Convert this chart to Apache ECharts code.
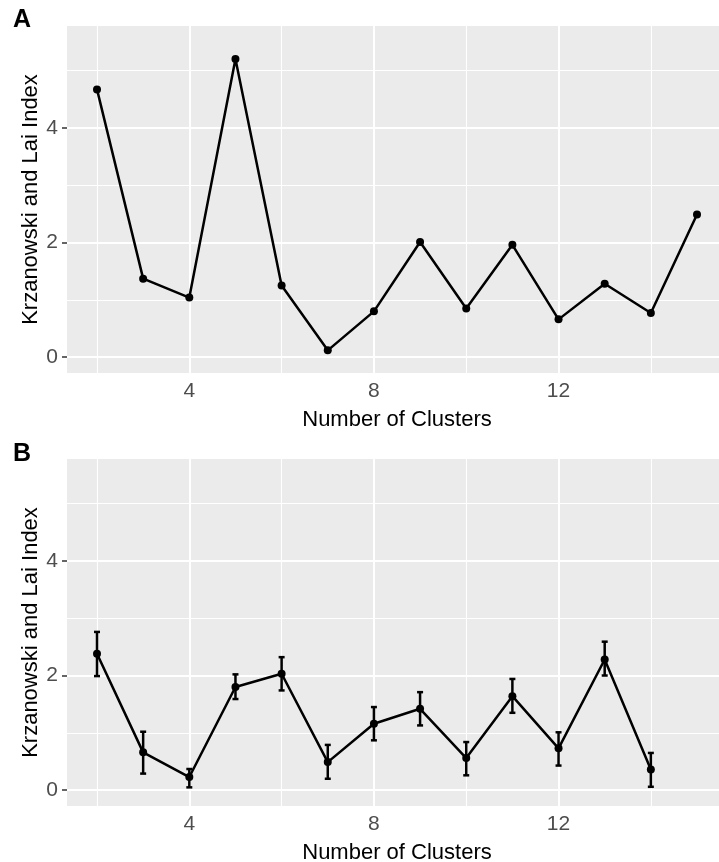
<!DOCTYPE html>
<html>
<head>
<meta charset="utf-8">
<script src="https://cdn.jsdelivr.net/npm/echarts@6/dist/echarts.min.js"></script>
<style>
  html, body { margin: 0; padding: 0; background: #ffffff; }
  #chart { width: 719px; height: 862px; }
</style>
</head>
<body>
<div id="chart"></div>
<script>
// panel A: single run
var clustersA = [2, 3, 4, 5, 6, 7, 8, 9, 10, 11, 12, 13, 14, 15];
var indexA = [4.67, 1.37, 1.04, 5.20, 1.25, 0.12, 0.80, 2.01, 0.85, 1.96, 0.66, 1.28, 0.77, 2.49];

// panel B: mean with error bars
var clustersB = [2, 3, 4, 5, 6, 7, 8, 9, 10, 11, 12, 13, 14];
var meanB = [2.38, 0.66, 0.23, 1.80, 2.03, 0.49, 1.16, 1.42, 0.56, 1.64, 0.73, 2.28, 0.36];
var lowerB = [1.99, 0.29, 0.05, 1.59, 1.74, 0.20, 0.87, 1.13, 0.26, 1.35, 0.43, 2.00, 0.06];
var upperB = [2.76, 1.02, 0.37, 2.02, 2.32, 0.79, 1.45, 1.71, 0.84, 1.94, 1.01, 2.59, 0.65];

var xTicks = [4, 8, 12];
var yTicks = [0, 2, 4];
var xMinor = [2, 6, 10, 14];
var yMinor = [1, 3, 5];

var FONT = 'Liberation Sans, Arial, Helvetica, sans-serif';

// white ggplot-style grid, drawn as markLines under the data
function gridLines() {
  var d = [];
  xTicks.forEach(function (v) { d.push({ xAxis: v, lineStyle: { width: 2 } }); });
  xMinor.forEach(function (v) { d.push({ xAxis: v, lineStyle: { width: 1.1 } }); });
  yTicks.forEach(function (v) { d.push({ yAxis: v, lineStyle: { width: 2 } }); });
  yMinor.forEach(function (v) { d.push({ yAxis: v, lineStyle: { width: 1.1 } }); });
  return d;
}

function xAx(idx) {
  return {
    type: 'value',
    gridIndex: idx,
    min: 1.35,
    max: 15.65,
    name: 'Number of Clusters',
    nameLocation: 'middle',
    nameGap: 36,
    nameTextStyle: { fontFamily: FONT, fontSize: 22, color: '#000000' },
    axisLine: { show: false },
    axisTick: { show: true, length: 5, customValues: xTicks, lineStyle: { color: '#333333', width: 1.5 } },
    axisLabel: { customValues: xTicks, margin: 8, fontFamily: FONT, fontSize: 21, color: '#4d4d4d' },
    splitLine: { show: false }
  };
}

function yAx(idx) {
  return {
    type: 'value',
    gridIndex: idx,
    min: -0.275,
    max: 5.775,
    name: 'Krzanowski and Lai Index',
    nameLocation: 'middle',
    nameGap: 25,
    nameMoveOverlap: false,
    nameTextStyle: { fontFamily: FONT, fontSize: 22, color: '#000000' },
    axisLine: { show: false },
    axisTick: { show: true, length: 5, customValues: yTicks, lineStyle: { color: '#333333', width: 1.5 } },
    axisLabel: { customValues: yTicks, margin: 9, fontFamily: FONT, fontSize: 21, color: '#4d4d4d' },
    splitLine: { show: false }
  };
}

var chart = echarts.init(document.getElementById('chart'));

var option = {
  animation: false,
  backgroundColor: '#ffffff',
  title: [
    { text: 'A', left: 13, top: 8, padding: 0, textStyle: { fontFamily: FONT, fontSize: 25, fontWeight: 'bold', color: '#000' } },
    { text: 'B', left: 13, top: 442, padding: 0, textStyle: { fontFamily: FONT, fontSize: 25, fontWeight: 'bold', color: '#000' } }
  ],
  grid: [
    { left: 67, right: -8, top: 26, height: 347, outerBoundsMode: 'none', containLabel: false, show: true, backgroundColor: '#ebebeb', borderWidth: 0 },
    { left: 67, right: -8, top: 459, height: 347, outerBoundsMode: 'none', containLabel: false, show: true, backgroundColor: '#ebebeb', borderWidth: 0 }
  ],
  xAxis: [xAx(0), xAx(1)],
  yAxis: [yAx(0), yAx(1)],
  series: [
    {
      name: 'A',
      type: 'line',
      xAxisIndex: 0,
      yAxisIndex: 0,
      data: clustersA.map(function (c, i) { return [c, indexA[i]]; }),
      symbol: 'circle',
      symbolSize: 8,
      itemStyle: { color: '#000000' },
      lineStyle: { color: '#000000', width: 2.5 },
      z: 3,
      markLine: {
        silent: true, z: 1, symbol: ['none', 'none'], label: { show: false },
        lineStyle: { color: '#ffffff', type: 'solid', opacity: 1 },
        data: gridLines()
      }
    },
    {
      name: 'B',
      type: 'line',
      xAxisIndex: 1,
      yAxisIndex: 1,
      data: clustersB.map(function (c, i) { return [c, meanB[i]]; }),
      symbol: 'circle',
      symbolSize: 8,
      itemStyle: { color: '#000000' },
      lineStyle: { color: '#000000', width: 2.5 },
      z: 3,
      markLine: {
        silent: true, z: 1, symbol: ['none', 'none'], label: { show: false },
        lineStyle: { color: '#ffffff', type: 'solid', opacity: 1 },
        data: gridLines()
      }
    },
    {
      name: 'B error',
      type: 'custom',
      xAxisIndex: 1,
      yAxisIndex: 1,
      z: 4,
      data: clustersB.map(function (c, i) { return [c, lowerB[i], upperB[i]]; }),
      renderItem: function (params, api) {
        var lo = api.coord([api.value(0), api.value(1)]);
        var hi = api.coord([api.value(0), api.value(2)]);
        var hw = 3;
        var st = { stroke: '#000000', lineWidth: 2.5 };
        return {
          type: 'group',
          children: [
            { type: 'line', shape: { x1: lo[0], y1: lo[1], x2: hi[0], y2: hi[1] }, style: st },
            { type: 'line', shape: { x1: lo[0] - hw, y1: lo[1], x2: lo[0] + hw, y2: lo[1] }, style: st },
            { type: 'line', shape: { x1: hi[0] - hw, y1: hi[1], x2: hi[0] + hw, y2: hi[1] }, style: st }
          ]
        };
      }
    }
  ]
};

chart.setOption(option);
</script>
</body>
</html>
